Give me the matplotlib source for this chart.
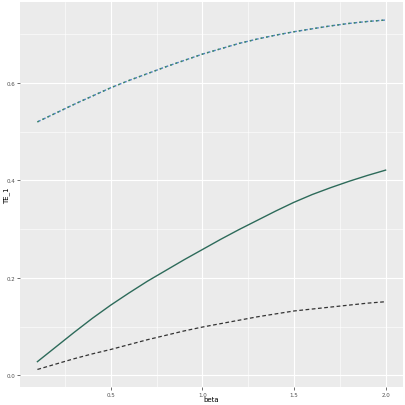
import numpy as np
import matplotlib
matplotlib.use("Agg")
import matplotlib.pyplot as plt
from matplotlib.ticker import MultipleLocator

# values
beta = [0.1, 0.2, 0.3, 0.4, 0.5, 0.6, 0.7, 0.8, 0.9, 1.0,
        1.1, 1.2, 1.3, 1.4, 1.5, 1.6, 1.7, 1.8, 1.9, 2.0]
te_upper = [0.520, 0.538, 0.556, 0.573, 0.590, 0.605, 0.619, 0.633, 0.646, 0.659,
            0.670, 0.681, 0.690, 0.698, 0.705, 0.711, 0.717, 0.722, 0.726, 0.729]
te_mid = [0.028, 0.058, 0.088, 0.117, 0.144, 0.169, 0.193, 0.215, 0.237, 0.258,
          0.279, 0.299, 0.318, 0.337, 0.355, 0.371, 0.385, 0.398, 0.410, 0.421]
te_lower = [0.012, 0.023, 0.034, 0.044, 0.053, 0.063, 0.073, 0.082, 0.091, 0.099,
            0.106, 0.113, 0.120, 0.126, 0.132, 0.136, 0.140, 0.144, 0.148, 0.151]

fig = plt.figure(figsize=(4.06, 4.06), dpi=100)
ax = fig.add_axes([20 / 406, 18 / 406, 383 / 406, 385 / 406])
ax.set_facecolor("#EBEBEB")

# ggplot-like grid
ax.xaxis.set_major_locator(MultipleLocator(0.5))
ax.xaxis.set_minor_locator(MultipleLocator(0.25))
ax.yaxis.set_major_locator(MultipleLocator(0.2))
ax.yaxis.set_minor_locator(MultipleLocator(0.1))
ax.grid(which="major", color="white", linewidth=0.8)
ax.grid(which="minor", color="white", linewidth=0.4)
ax.set_axisbelow(True)
for s in ax.spines.values():
    s.set_visible(False)

# upper curve: two overlapping dashed lines
ax.plot(beta, te_upper, color="#4A7FC0", linewidth=1.0, linestyle=(0, (2.5, 1.5)))
ax.plot(beta, te_upper, color="#3F8A5C", linewidth=1.0, linestyle=(0, (1.2, 2.8)))
ax.plot(beta, te_mid, color="#2D6B5A", linewidth=1.0)
ax.plot(beta, te_lower, color="#333333", linewidth=0.9, linestyle=(0, (3, 2)))

ax.set_xlim(0.005, 2.095)
ax.set_ylim(-0.024, 0.766)
ax.set_xticks([0.5, 1.0, 1.5, 2.0])
ax.set_xticklabels(["0.5", "1.0", "1.5", "2.0"])
ax.set_yticks([0.0, 0.2, 0.4, 0.6])
ax.set_yticklabels(["0.0", "0.2", "0.4", "0.6"])
ax.tick_params(which="major", length=2, width=0.5, color="#333333",
               labelsize=4, labelcolor="#4D4D4D", pad=1.5)
ax.tick_params(which="minor", length=0)
ax.set_xlabel("beta", fontsize=5)
ax.set_ylabel("TE_1", fontsize=5)
ax.xaxis.set_label_coords(0.5, -0.031)
ax.yaxis.set_label_coords(-0.034, 0.5)
ax.xaxis.label.set_va("center")
ax.yaxis.label.set_va("center")

fig.savefig("out.png", dpi=100, facecolor="white")
